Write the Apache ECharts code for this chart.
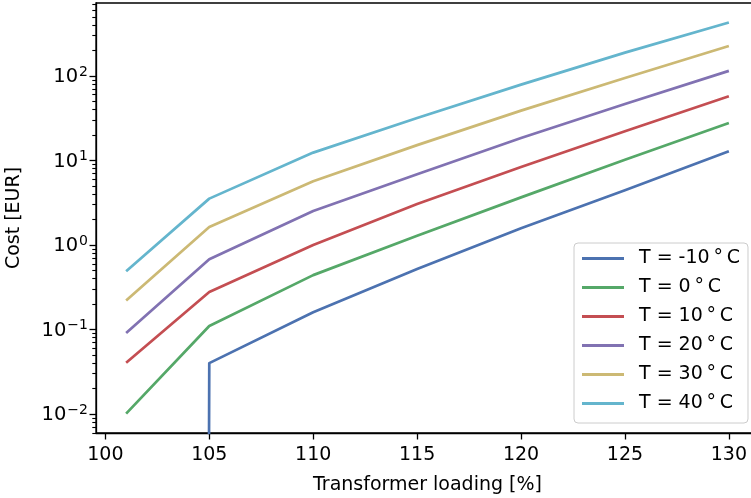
<!DOCTYPE html>
<html>
<head>
<meta charset="utf-8">
<script src="https://cdn.jsdelivr.net/npm/echarts@6/dist/echarts.min.js"></script>
<style>
html,body{margin:0;padding:0;background:#fff;}
#chart{width:751px;height:498px;}
</style>
</head>
<body>
<div id="chart"></div>
<script>
// ---- data ----
const loading = [101, 105, 110, 115, 120, 125, 130];
const temps = [-10, 0, 10, 20, 30, 40];
// cost at T = -10 °C is zero at 101 % (drawn as a tiny positive value on the log axis)
const costM10 = [1e-300, 0.04, 0.16, 0.52, 1.58, 4.44, 12.9];
const cost0 = [0.0101, 0.11, 0.44, 1.29, 3.66, 10.2, 27.8];
const cost10 = [0.0405, 0.278, 1.0, 3.05, 8.4, 22.2, 57.5];
const cost20 = [0.091, 0.68, 2.52, 6.87, 18.5, 46.6, 115];
const cost30 = [0.22, 1.63, 5.67, 15.2, 38.9, 94.6, 226];
const cost40 = [0.49, 3.54, 12.4, 31.8, 79, 189, 429];
const xTicks = [100, 105, 110, 115, 120, 125, 130];
const yTicks = [0.01, 0.1, 1, 10, 100];

const colors = ['#4C72B0', '#55A868', '#C44E52', '#8172B2', '#CCB974', '#64B5CD'];
const allCosts = [costM10, cost0, cost10, cost20, cost30, cost40];

const yMin = 0.00596, yMax = 731;
const minorTicks = [];
for (let e = -3; e <= 2; e++) {
  for (let m = 2; m <= 9; m++) minorTicks.push(+(m * Math.pow(10, e)).toPrecision(3));
}

const font = 'DejaVu Sans';
const series = temps.map((t, i) => ({
  name: 'T = ' + t + '\u2009°\u2009C',
  type: 'line',
  data: loading.map((x, j) => [x, allCosts[i][j]]),
  symbol: 'none',
  showSymbol: false,
  clip: true,
  lineStyle: { color: colors[i], width: 2.7, join: 'round', cap: 'butt' },
  itemStyle: { color: colors[i] },
  emphasis: { disabled: true },
  animation: false
}));

const chart = echarts.init(document.getElementById('chart'), null, { renderer: 'canvas' });
chart.setOption({
  animation: false,
  backgroundColor: '#fff',
  textStyle: { fontFamily: font },
  grid: {
    left: 96, top: 3, width: 663, bottom: 65,
    containLabel: false,
    outerBoundsMode: 'none',
    show: true, borderColor: '#000', borderWidth: 1.3, backgroundColor: 'transparent'
  },
  legend: {
    orient: 'vertical',
    left: 574, top: 243,
    padding: [6, 8, 10, 8],
    itemGap: 10,
    itemWidth: 42, itemHeight: 3,
    icon: 'rect',
    backgroundColor: 'rgba(255,255,255,0.8)',
    borderColor: '#cccccc', borderWidth: 1, borderRadius: 4,
    textStyle: { fontFamily: font, fontSize: 19, color: '#000', lineHeight: 19, padding: [0, 0, 0, 10] },
    data: series.map(s => s.name)
  },
  xAxis: {
    type: 'value',
    min: 99.55, max: 131.45,
    name: 'Transformer loading [%]',
    nameLocation: 'middle',
    nameGap: 43,
    nameTextStyle: { fontFamily: font, fontSize: 19, color: '#000' },
    axisLine: { show: true, lineStyle: { color: '#000', width: 1.3 } },
    axisTick: { show: true, length: 6.5, lineStyle: { color: '#000', width: 1.3 }, customValues: xTicks },
    axisLabel: { show: true, margin: 13, fontFamily: font, fontSize: 19, color: '#000', customValues: xTicks },
    splitLine: { show: false }
  },
  yAxis: [{
    type: 'log',
    logBase: 10,
    min: yMin, max: yMax,
    position: 'left',
    name: 'Cost [EUR]',
    nameLocation: 'middle',
    nameGap: 72,
    nameRotate: 90,
    nameTextStyle: { fontFamily: font, fontSize: 19, color: '#000' },
    axisLine: { show: true, lineStyle: { color: '#000', width: 1.3 } },
    axisTick: { show: true, length: 6.5, lineStyle: { color: '#000', width: 1.3 }, customValues: yTicks },
    axisLabel: {
      show: true, margin: 8, customValues: yTicks,
      formatter: function (v) {
        const e = Math.round(Math.log10(v));
        const es = e < 0 ? '\u2212' + (-e) : String(e);
        return '{b|10}{e|' + es + '}';
      },
      rich: {
        b: { fontFamily: font, fontSize: 19.5, color: '#000', lineHeight: 22, verticalAlign: 'bottom' },
        e: { fontFamily: font, fontSize: 14, color: '#000', lineHeight: 22, verticalAlign: 'bottom', padding: [0, 0, 8, 1] }
      }
    },
    splitLine: { show: false }
  }, {
    type: 'log',
    logBase: 10,
    min: yMin, max: yMax,
    position: 'left',
    axisLine: { show: false },
    axisTick: { show: true, length: 3.7, lineStyle: { color: '#000', width: 1.1 }, customValues: minorTicks },
    axisLabel: { show: false },
    splitLine: { show: false }
  }],
  series: series
});
</script>
</body>
</html>
